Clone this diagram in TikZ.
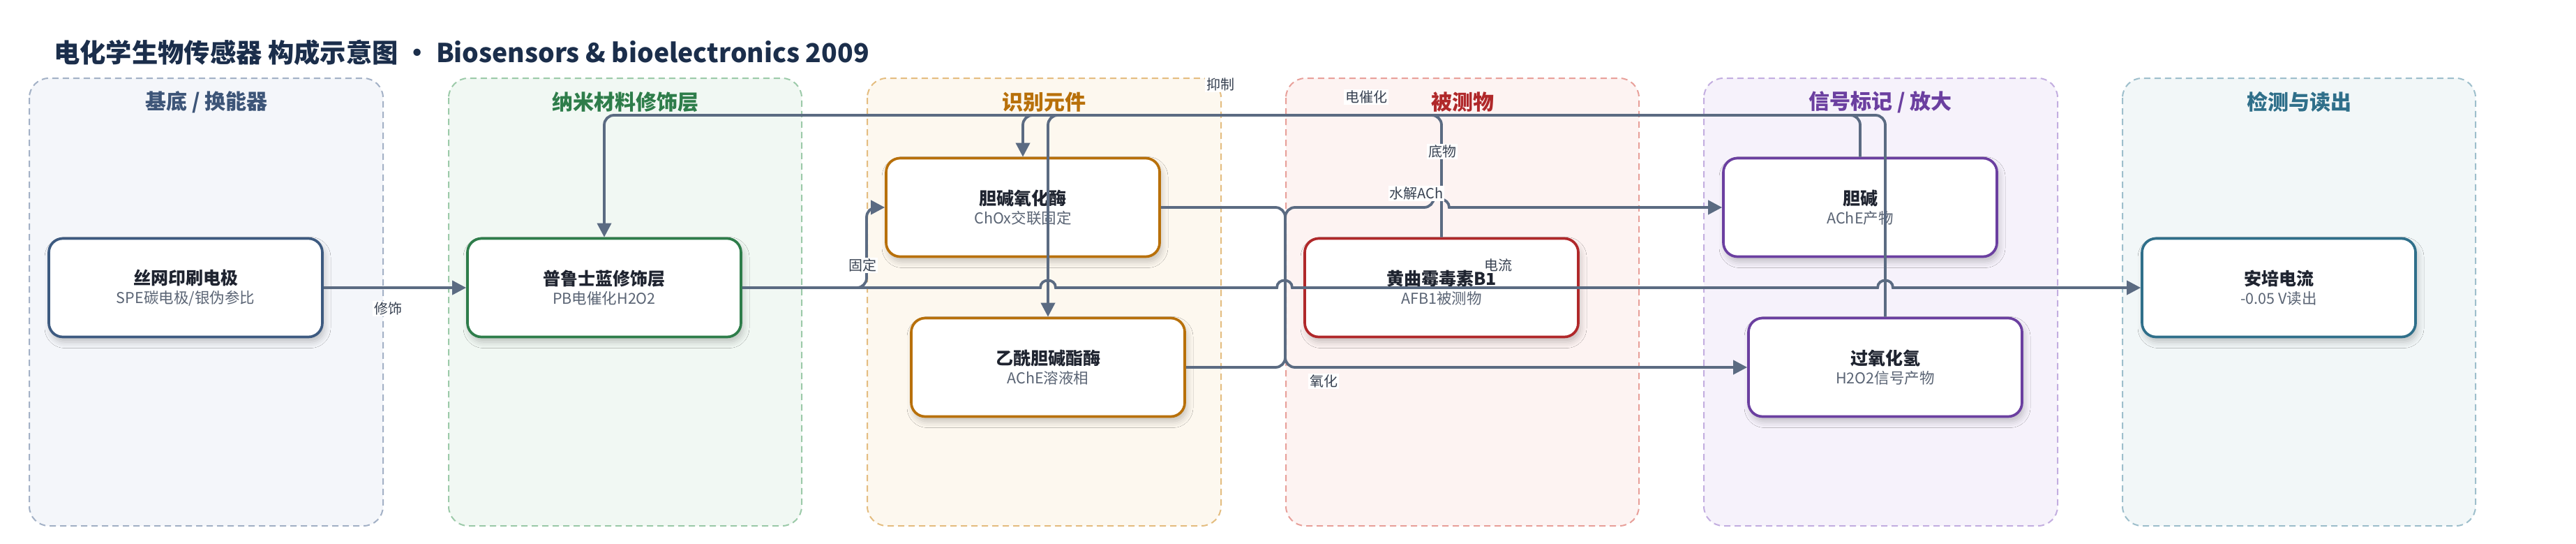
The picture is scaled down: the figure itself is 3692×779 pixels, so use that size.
\documentclass[tikz,border=0pt]{standalone}
\usepackage{fontspec}
\setmainfont{Noto Sans CJK SC}
\usetikzlibrary{arrows.meta,shadows.blur}
\definecolor{edgec}{HTML}{5B6B82}
\definecolor{labc}{HTML}{374151}
\definecolor{titc}{HTML}{1B2E4B}
\definecolor{ntc}{HTML}{1F2430}
\definecolor{subc}{HTML}{5A6474}
\definecolor{lAf}{HTML}{F4F6FA}\definecolor{lAd}{HTML}{A3B1C6}\definecolor{lAt}{HTML}{3D5578}\definecolor{nAc}{HTML}{3D5A80}
\definecolor{lBf}{HTML}{F1F8F3}\definecolor{lBd}{HTML}{9CCAA9}\definecolor{lBt}{HTML}{2E7D4A}
\definecolor{lCf}{HTML}{FDF8EF}\definecolor{lCd}{HTML}{E4BD80}\definecolor{lCt}{HTML}{B8700A}
\definecolor{lDf}{HTML}{FDF3F2}\definecolor{lDd}{HTML}{E8A09A}\definecolor{lDt}{HTML}{B0282A}
\definecolor{lEf}{HTML}{F6F2FB}\definecolor{lEd}{HTML}{C3AEE0}\definecolor{lEt}{HTML}{6B3FA0}
\definecolor{lFf}{HTML}{F2F7F8}\definecolor{lFd}{HTML}{9EBFCC}\definecolor{lFt}{HTML}{2F6F8A}
\newcommand{\boxtext}[2]{{\fontsize{25}{29}\selectfont\bfseries #1}\\[5pt]{\fontsize{21.5}{25}\selectfont\color{subc}#2}}
\begin{document}
\begin{tikzpicture}[x=1pt,y=-1pt,
  lane/.style={dash pattern=on 9pt off 6pt, line width=2pt, rounded corners=28pt},
  lanetitle/.style={font=\fontsize{30}{34}\selectfont\bfseries},
  box/.style={draw, fill=white, text=ntc, line width=3.7pt, rounded corners=20pt,
    minimum width=392pt, minimum height=141pt, inner sep=0pt, align=center,
    blur shadow={shadow xshift=3pt, shadow yshift=-7pt, shadow blur radius=9pt, shadow opacity=22}},
  edge/.style={draw=edgec, line width=3.8pt, rounded corners=14pt},
  arr/.style={-{Triangle[length=20pt,width=20pt]}},
  elabel/.style={fill=white, inner sep=2pt, text=labc, font=\fontsize{20}{24}\selectfont}]
\useasboundingbox[fill=white] (0,0) rectangle (3692,779);

% title
\node[anchor=base west, text=titc, font=\fontsize{37.3}{43}\selectfont\bfseries, inner sep=0pt] (title) at (77,89)
  {电化学生物传感器 构成示意图 · Biosensors \& bioelectronics 2009};

% lanes
\draw[lane, fill=lAf, draw=lAd] (42,112) rectangle (549,753);
\draw[lane, fill=lBf, draw=lBd] (643,112) rectangle (1149,753);
\draw[lane, fill=lCf, draw=lCd] (1243,112) rectangle (1750,753);
\draw[lane, fill=lDf, draw=lDd] (1843,112) rectangle (2349,753);
\draw[lane, fill=lEf, draw=lEd] (2442,112) rectangle (2949,753);
\draw[lane, fill=lFf, draw=lFd] (3042,112) rectangle (3548,753);
\node[lanetitle, text=lAt] (tA) at (296,146) {基底 / 换能器};
\node[lanetitle, text=lBt] (tB) at (896,146) {纳米材料修饰层};
\node[lanetitle, text=lCt] (tC) at (1496,146) {识别元件};
\node[lanetitle, text=lDt] (tD) at (2096,146) {被测物};
\node[lanetitle, text=lEt] (tE) at (2695,146) {信号标记 / 放大};
\node[lanetitle, text=lFt] (tF) at (3295,146) {检测与读出};

% nodes
\node[box, draw=nAc] (n1) at (266,412) {\boxtext{丝网印刷电极}{SPE碳电极/银伪参比}};
\node[box, draw=lBt] (n2) at (866,412) {\boxtext{普鲁士蓝修饰层}{PB电催化H2O2}};
\node[box, draw=lCt] (n3) at (1466,297) {\boxtext{胆碱氧化酶}{ChOx交联固定}};
\node[box, draw=lCt] (n4) at (1502,526) {\boxtext{乙酰胆碱酯酶}{AChE溶液相}};
\node[box, draw=lDt] (n5) at (2066,412) {\boxtext{黄曲霉毒素B1}{AFB1被测物}};
\node[box, draw=lEt] (n6) at (2666,297) {\boxtext{胆碱}{AChE产物}};
\node[box, draw=lEt] (n7) at (2702,526) {\boxtext{过氧化氢}{H2O2信号产物}};
\node[box, draw=lFt] (n8) at (3266,412) {\boxtext{安培电流}{-0.05 V读出}};

% edges
\draw[edge, arr] (n1.east) -- (n2.west);
\draw[edge, arr] (n2.east) -- (1242,412) -- (1242,297) -- (n3.west);
\draw[edge, arr, sharp corners] (n2.east) -- (1491,412) .. controls (1491,398) and (1513,398) .. (1513,412)
  -- (1830,412) .. controls (1830,398) and (1852,398) .. (1852,412)
  -- (2691,412) .. controls (2691,398) and (2713,398) .. (2713,412) -- (n8.west);
\draw[edge, arr] (n5.north) -- (2066,165) -- (1502,165) -- (n4.north);
\draw[edge, arr] (n6.north) -- (2666,165) -- (1466,165) -- (n3.north);
\draw[edge, arr] (n7.north) -- (2702,165) -- (866,165) -- (n2.north);
\draw[edge, arr] (n4.east) -- (1842,526) -- (1842,297) -- (2055,297) [sharp corners]
  .. controls (2055,283) and (2077,283) .. (2077,297) -- (n6.west);
\draw[edge, arr] (n3.east) -- (1842,297) -- (1842,526) -- (n7.west);

% edge labels
\node[elabel] (lab1) at (556,442) {修饰};
\node[elabel] (lab2) at (1236,380) {固定};
\node[elabel] (lab3) at (2147,380) {电流};
\node[elabel] (lab4) at (1749,121) {抑制};
\node[elabel] (lab5) at (2067,217) {底物};
\node[elabel] (lab6) at (1958,139) {电催化};
\node[elabel] (lab7) at (2030,277) {水解ACh};
\node[elabel] (lab8) at (1897,546) {氧化};
\end{tikzpicture}
\end{document}
